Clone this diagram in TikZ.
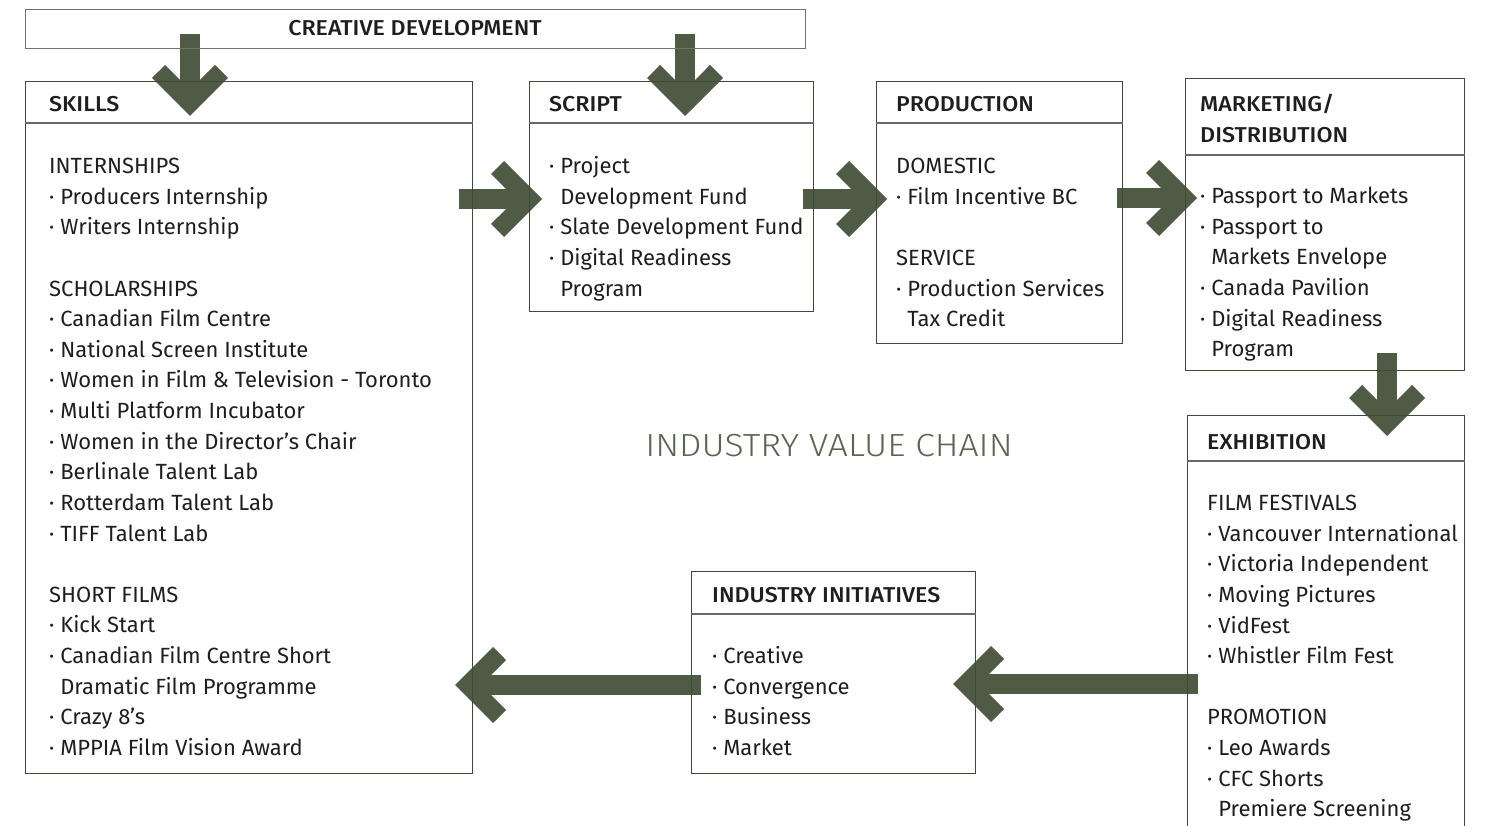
\documentclass[tikz,border=0pt]{standalone}
\usepackage{fontspec}
\setmainfont{Fira Sans}[BoldFont={Fira Sans Medium}, BoldFeatures={FakeStretch=1.08}]
\newfontfamily\titlefont{Fira Sans Light}[FakeStretch=1.11]
\usetikzlibrary{calc}

\definecolor{arrowgreen}{RGB}{80,91,70}
\definecolor{chaintitle}{RGB}{92,101,82}
\definecolor{boxline}{RGB}{62,74,52}
\definecolor{cdline}{RGB}{110,118,100}
\definecolor{sepline}{RGB}{105,105,105}
\definecolor{ink}{RGB}{30,30,30}

\pgfdeclarelayer{back}
\pgfsetlayers{back,main}

% one column of text lines, first baseline is the box baseline
\newcommand\stack[1]{\vtop{\baselineskip=30.63pt\lineskiplimit=-100pt\lineskip=0pt\relax #1}}
\newcommand\itm[1]{\hbox{\textperiodcentered\ #1}}
\newcommand\cont[1]{\hbox{\hphantom{\textperiodcentered\ }#1}}
\newcommand\plain[1]{\hbox{#1}}
\newcommand\gap{\hbox{}}

% block arrow: thick shaft and chevron head, from tail #1 to tip #2
\newcommand\chain[2]{%
  \draw[arrowgreen, line width=20pt, line cap=butt] (#1) -- ($(#2)!20pt!(#1)$);
  \fill[arrowgreen] (#2)
    -- ($(#2)!53.74pt!45:(#1)$)
    -- ($(#2)!56.8pt!26.11:(#1)$)
    -- ($(#2)!26pt!(#1)$)
    -- ($(#2)!56.8pt!-26.11:(#1)$)
    -- ($(#2)!53.74pt!-45:(#1)$)
    -- cycle;}

\tikzset{
  box/.style={draw=boxline, line width=1.4pt, anchor=north west, inner sep=0pt},
  sep/.style={draw=sepline, line width=1.8pt},
  head/.style={anchor=base west, inner sep=0pt, text=ink, font=\fontsize{21.5}{30.63}\selectfont\bfseries},
  body/.style={anchor=base west, inner sep=0pt, text=ink, font=\fontsize{22}{30.63}\selectfont},
}

\begin{document}
\begin{tikzpicture}[x=1pt, y=-1pt]
\useasboundingbox (0,0) rectangle (1486,826);
\clip (0,0) rectangle (1486,826);

% boxes
\node[box, draw=cdline, minimum width=780pt, minimum height=39pt] (cd) at (25,9) {};
\node[box, minimum width=447pt, minimum height=692pt] (skills) at (25,81) {};
\node[box, minimum width=284pt, minimum height=230pt] (script) at (529,81) {};
\node[box, minimum width=246pt, minimum height=262pt] (production) at (876,81) {};
\node[box, minimum width=279pt, minimum height=292pt] (marketing) at (1185,78) {};
\node[box, minimum width=277pt, minimum height=440pt] (exhibition) at (1187,415) {};
\node[box, minimum width=284pt, minimum height=202pt] (initiatives) at (691,571) {};

% header rules
\draw[sep] ([yshift=-42pt]skills.north west) -- ([yshift=-42pt]skills.north east);
\draw[sep] ([yshift=-42pt]script.north west) -- ([yshift=-42pt]script.north east);
\draw[sep] ([yshift=-42pt]production.north west) -- ([yshift=-42pt]production.north east);
\draw[sep] ([yshift=-77pt]marketing.north west) -- ([yshift=-77pt]marketing.north east);
\draw[sep] ([yshift=-46pt]exhibition.north west) -- ([yshift=-46pt]exhibition.north east);
\draw[sep] ([yshift=-43pt]initiatives.north west) -- ([yshift=-43pt]initiatives.north east);

% arrow ends
\coordinate (a1s) at (190,34);   \coordinate (a1t) at (190,116);
\coordinate (a2s) at (685,34);   \coordinate (a2t) at (685,116);
\coordinate (a3s) at (459,199);  \coordinate (a3t) at (542,199);
\coordinate (a4s) at (803,199);  \coordinate (a4t) at (887,199);
\coordinate (a5s) at (1117,198); \coordinate (a5t) at (1197,198);
\coordinate (a6s) at (1387,353); \coordinate (a6t) at (1387,436);
\coordinate (a7s) at (1198,684); \coordinate (a7t) at (953,684);
\coordinate (a8s) at (701,685);  \coordinate (a8t) at (455,685);

\begin{pgfonlayer}{back}
  \chain{a1s}{a1t}
  \chain{a2s}{a2t}
  \chain{a3s}{a3t}
  \chain{a4s}{a4t}
  \chain{a5s}{a5t}
  \chain{a6s}{a6t}
  \chain{a7s}{a7t}
  \chain{a8s}{a8t}
\end{pgfonlayer}

% titles
\node[head, anchor=base] (cdT) at (415,35.5) {CREATIVE DEVELOPMENT};
\node[anchor=base, inner sep=0pt, text=chaintitle, font=\fontsize{32}{38}\titlefont] (chainT) at (829,456) {INDUSTRY VALUE CHAIN};

% skills
\node[head] (skillsH) at (49,111.5) {SKILLS};
\node[body] (skillsB) at (49,173.5) {\stack{%
  \plain{INTERNSHIPS}
  \itm{Producers Internship}
  \itm{Writers Internship}
  \gap
  \plain{SCHOLARSHIPS}
  \itm{Canadian Film Centre}
  \itm{National Screen Institute}
  \itm{Women in Film \& Television - Toronto}
  \itm{Multi Platform Incubator}
  \itm{Women in the Director’s Chair}
  \itm{Berlinale Talent Lab}
  \itm{Rotterdam Talent Lab}
  \itm{TIFF Talent Lab}
  \gap
  \plain{SHORT FILMS}
  \itm{Kick Start}
  \itm{Canadian Film Centre Short}
  \cont{Dramatic Film Programme}
  \itm{Crazy 8’s}
  \itm{MPPIA Film Vision Award}}};

% script
\node[head] (scriptH) at (549,111.5) {SCRIPT};
\node[body] (scriptB) at (549,173.5) {\stack{%
  \itm{Project}
  \cont{Development Fund}
  \itm{Slate Development Fund}
  \itm{Digital Readiness}
  \cont{Program}}};

% production
\node[head] (productionH) at (896,111.5) {PRODUCTION};
\node[body] (productionB) at (896,173.5) {\stack{%
  \plain{DOMESTIC}
  \itm{Film Incentive BC}
  \gap
  \plain{SERVICE}
  \itm{Production Services}
  \cont{Tax Credit}}};

% marketing / distribution
\node[head] (marketingH) at (1200,111.5) {\stack{%
  \plain{MARKETING/}
  \plain{DISTRIBUTION}}};
\node[body] (marketingB) at (1200,203.5) {\stack{%
  \itm{Passport to Markets}
  \itm{Passport to}
  \cont{Markets Envelope}
  \itm{Canada Pavilion}
  \itm{Digital Readiness}
  \cont{Program}}};

% exhibition
\node[head] (exhibitionH) at (1207,449.5) {EXHIBITION};
\node[body] (exhibitionB) at (1207,510.5) {\stack{%
  \plain{FILM FESTIVALS}
  \itm{Vancouver International}
  \itm{Victoria Independent}
  \itm{Moving Pictures}
  \itm{VidFest}
  \itm{Whistler Film Fest}
  \gap
  \plain{PROMOTION}
  \itm{Leo Awards}
  \itm{CFC Shorts}
  \cont{Premiere Screening}}};

% industry initiatives
\node[head] (initiativesH) at (712,602.5) {INDUSTRY INITIATIVES};
\node[body] (initiativesB) at (712,663.5) {\stack{%
  \itm{Creative}
  \itm{Convergence}
  \itm{Business}
  \itm{Market}}};
\end{tikzpicture}
\end{document}
